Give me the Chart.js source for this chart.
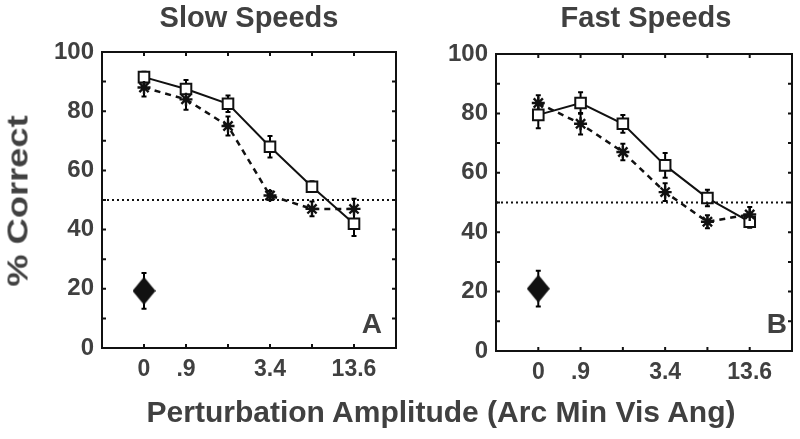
<!DOCTYPE html>
<html>
<head>
<meta charset="utf-8">
<script src="https://cdn.jsdelivr.net/npm/chart.js@4.4.1/dist/chart.umd.min.js"></script>
<style>
  html, body { margin: 0; padding: 0; background: #fff; }
  body { width: 800px; height: 439px; position: relative; overflow: hidden;
         font-family: "Liberation Sans", Arial, Helvetica, sans-serif; font-weight: bold; color: #404040; }
  canvas { position: absolute; top: 0; }
  .lbl { position: absolute; white-space: nowrap; line-height: 1; }
  .c { transform: translateX(-50%); }
</style>
</head>
<body>
<canvas id="left" width="400" height="439" style="left:0"></canvas>
<canvas id="right" width="400" height="439" style="left:400px"></canvas>
<div class="lbl c" style="left:249px; top:3px; font-size:29px;">Slow Speeds</div>
<div class="lbl c" style="left:646px; top:3px; font-size:29px;">Fast Speeds</div>
<div class="lbl c" style="left:441px; top:397px; font-size:30px;">Perturbation Amplitude (Arc Min Vis Ang)</div>
<div class="lbl" style="left:18px; top:201px; font-size:29px; transform: translate(-50%,-50%) rotate(-90deg) scaleX(1.25);">% Correct</div>
<div class="lbl" style="right:418px; top:310px; font-size:28px;">A</div>
<div class="lbl" style="right:13px; top:310px; font-size:28px;">B</div>
<script>
// ---- data ----
const xPositions = [1, 2, 3, 4, 5, 6];
const tickLabels = ['0', '.9', '', '3.4', '', '13.6'];
const yTickValues = [0, 20, 40, 60, 80, 100];

const slowSquare    = [91.5, 87.5, 82.5, 68.0, 54.5, 42.0];
const slowSquareErr = [1.8, 3.0, 2.8, 3.6, 1.8, 4.2];
const slowStar      = [88.0, 84.0, 75.0, 51.5, 47.0, 47.0];
const slowStarErr   = [3.0, 3.5, 3.2, 1.5, 2.5, 3.4];
const slowDiamond    = 19.3;
const slowDiamondErr = 6.0;

const fastSquare    = [79.5, 83.5, 76.5, 62.5, 51.5, 43.5];
const fastSquareErr = [4.5, 3.6, 3.0, 4.2, 2.8, 2.0];
const fastStar      = [83.5, 76.5, 67.0, 53.5, 43.5, 46.0];
const fastStarErr   = [2.6, 3.6, 2.8, 3.0, 2.2, 2.5];
const fastDiamond    = 21.0;
const fastDiamondErr = 6.0;

const chanceLevel = 50;
const diamondX = 1;

// ---- styles ----
const FONT = "'Liberation Sans', Arial, Helvetica, sans-serif";
const TEXT = '#404040';

function diamondImage() {
  const c = document.createElement('canvas');
  c.width = 23; c.height = 28;
  const g = c.getContext('2d');
  g.fillStyle = '#111';
  g.beginPath();
  g.moveTo(11.5, 0); g.lineTo(23, 14); g.lineTo(11.5, 28); g.lineTo(0, 14);
  g.closePath(); g.fill();
  return c;
}
const DIAMOND = diamondImage();

const framePlugin = {
  id: 'frame',
  beforeDatasetsDraw(chart) {
    const { ctx, scales: { x, y } } = chart;
    ctx.save();
    ctx.strokeStyle = '#000';
    ctx.lineWidth = 2;
    chart.data.datasets.forEach(ds => {
      if (!ds.errors) return;
      ds.data.forEach((p, i) => {
        const e = ds.errors[i];
        const px = x.getPixelForValue(p.x);
        const t = y.getPixelForValue(p.y + e);
        const b = y.getPixelForValue(p.y - e);
        ctx.beginPath();
        ctx.moveTo(px, t); ctx.lineTo(px, b);
        ctx.moveTo(px - 2.5, t); ctx.lineTo(px + 2.5, t);
        ctx.moveTo(px - 2.5, b); ctx.lineTo(px + 2.5, b);
        ctx.stroke();
      });
    });
    ctx.restore();
  },
  afterDatasetsDraw(chart) {
    const { ctx, chartArea: a, scales: { x, y } } = chart;
    ctx.save();
    ctx.strokeStyle = '#111';
    ctx.lineWidth = 2;
    ctx.strokeRect(a.left, a.top, a.right - a.left, a.bottom - a.top);
    ctx.beginPath();
    for (let v = 0; v <= 100; v += 10) {
      const py = y.getPixelForValue(v);
      ctx.moveTo(a.left, py); ctx.lineTo(a.left + 4, py);
      ctx.moveTo(a.right, py); ctx.lineTo(a.right - 4, py);
    }
    xPositions.forEach(v => {
      const px = x.getPixelForValue(v);
      ctx.moveTo(px, a.bottom); ctx.lineTo(px, a.bottom - 4);
      ctx.moveTo(px, a.top); ctx.lineTo(px, a.top + 4);
    });
    ctx.stroke();
    ctx.restore();
  }
};

function pts(vals) { return vals.map((v, i) => ({ x: xPositions[i], y: v })); }

function makeChart(id, sq, sqErr, st, stErr, dia, diaErr, layout) {
  return new Chart(document.getElementById(id), {
    type: 'line',
    data: {
      datasets: [
        {
          data: [{ x: 0, y: chanceLevel }, { x: 7, y: chanceLevel }],
          borderColor: '#111', borderWidth: 2, borderDash: [2, 3],
          pointRadius: 0
        },
        {
          data: pts(st), errors: stErr,
          borderColor: '#111', borderWidth: 2.5, borderDash: [6, 5],
          pointStyle: 'star', pointRadius: 6.5, pointBorderWidth: 2.4,
          pointBorderColor: '#111', pointBackgroundColor: '#111'
        },
        {
          data: pts(sq), errors: sqErr,
          borderColor: '#111', borderWidth: 2,
          pointStyle: 'rect', pointRadius: 7.5, pointBorderWidth: 2,
          pointBorderColor: '#111', pointBackgroundColor: '#fff'
        },
        {
          data: [{ x: diamondX, y: dia }], errors: [diaErr],
          showLine: false, pointStyle: DIAMOND, pointRadius: 12
        }
      ]
    },
    options: {
      responsive: false,
      animation: false,
      devicePixelRatio: 1,
      layout: { padding: layout.padding, autoPadding: false },
      plugins: { legend: { display: false }, tooltip: { enabled: false } },
      scales: {
        x: {
          type: 'linear', min: 0, max: 7,
          grid: { display: false, drawTicks: false },
          border: { display: false },
          afterBuildTicks: s => { s.ticks = xPositions.map(v => ({ value: v })); },
          afterFit: s => { s.height = layout.xHeight; s.paddingLeft = 0; s.paddingRight = 0; },
          ticks: {
            autoSkip: false, maxRotation: 0, padding: 8,
            color: TEXT, font: { family: FONT, size: 23, weight: 'bold' },
            callback: v => tickLabels[xPositions.indexOf(v)] ?? ''
          }
        },
        y: {
          min: 0, max: 100,
          grid: { display: false, drawTicks: false },
          border: { display: false },
          afterBuildTicks: s => { s.ticks = yTickValues.map(v => ({ value: v })); },
          afterFit: s => { s.width = layout.yWidth; s.paddingTop = 0; s.paddingBottom = 0; },
          ticks: {
            autoSkip: false, padding: 8,
            color: TEXT, font: { family: FONT, size: 24, weight: 'bold' }
          }
        }
      }
    },
    plugins: [framePlugin]
  });
}

makeChart('left', slowSquare, slowSquareErr, slowStar, slowStarErr, slowDiamond, slowDiamondErr,
  { padding: { left: 0, right: 4, top: 52, bottom: 0 }, yWidth: 102, xHeight: 91 });
makeChart('right', fastSquare, fastSquareErr, fastStar, fastStarErr, fastDiamond, fastDiamondErr,
  { padding: { left: 0, right: 8, top: 54, bottom: 0 }, yWidth: 96, xHeight: 88 });
</script>
</body>
</html>
